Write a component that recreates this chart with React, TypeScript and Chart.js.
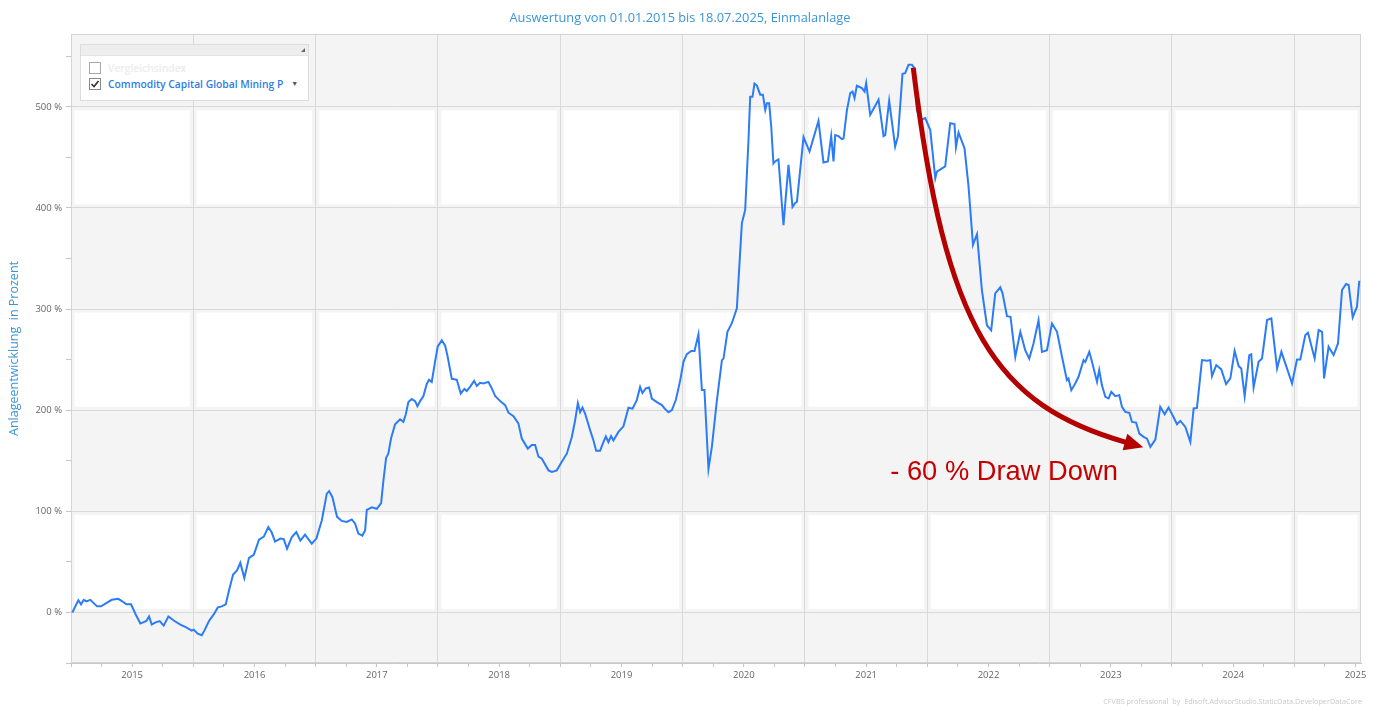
import React, { useEffect, useRef } from "react";
import { Chart, registerables } from "chart.js";

Chart.register(...registerables);

const chartTitle = "Auswertung von 01.01.2015 bis 18.07.2025, Einmalanlage";
const yAxisTitle = "Anlageentwicklung  in Prozent";
const seriesName = "Commodity Capital Global Mining P";
const hiddenSeriesName = "Vergleichsindex";
const footerText = "CFVBS professional  by  Edisoft.AdvisorStudio.StaticData.DeveloperDataCore";
const drawDownLabel = "- 60 % Draw Down";

const yearLabels = [2015, 2016, 2017, 2018, 2019, 2020, 2021, 2022, 2023, 2024, 2025];
const percentTicks = [0, 100, 200, 300, 400, 500];
const whiteBands = [0, 200, 400];

// decimal years
const dates = [
  2015.011, 2015.06, 2015.082, 2015.104, 2015.125, 2015.158, 2015.213, 2015.245, 2015.333, 2015.387,
  2015.419, 2015.452, 2015.491, 2015.529, 2015.567, 2015.616, 2015.638, 2015.66, 2015.687, 2015.725,
  2015.758, 2015.796, 2015.84, 2015.894, 2015.938, 2015.987, 2016.003, 2016.036, 2016.069, 2016.09,
  2016.128, 2016.167, 2016.2, 2016.232, 2016.265, 2016.292, 2016.325, 2016.357, 2016.384, 2016.417,
  2016.455, 2016.494, 2016.537, 2016.576, 2016.613, 2016.641, 2016.668, 2016.711, 2016.739, 2016.766,
  2016.805, 2016.842, 2016.875, 2016.913, 2016.968, 2017.006, 2017.05, 2017.091, 2017.11, 2017.137,
  2017.175, 2017.213, 2017.254, 2017.295, 2017.322, 2017.349, 2017.382, 2017.404, 2017.418, 2017.459,
  2017.5, 2017.535, 2017.554, 2017.576, 2017.594, 2017.616, 2017.649, 2017.69, 2017.717, 2017.737,
  2017.758, 2017.786, 2017.813, 2017.832, 2017.854, 2017.881, 2017.908, 2017.927, 2017.949, 2017.976,
  2017.998, 2018.031, 2018.058, 2018.077, 2018.113, 2018.154, 2018.186, 2018.216, 2018.235, 2018.262,
  2018.295, 2018.317, 2018.344, 2018.371, 2018.412, 2018.44, 2018.467, 2018.508, 2018.549, 2018.576,
  2018.617, 2018.657, 2018.685, 2018.734, 2018.767, 2018.794, 2018.821, 2018.849, 2018.903, 2018.931,
  2018.971, 2019.012, 2019.053, 2019.094, 2019.121, 2019.143, 2019.162, 2019.181, 2019.203, 2019.244,
  2019.271, 2019.293, 2019.325, 2019.352, 2019.372, 2019.393, 2019.415, 2019.434, 2019.475, 2019.516,
  2019.557, 2019.59, 2019.625, 2019.652, 2019.671, 2019.699, 2019.726, 2019.748, 2019.789, 2019.83,
  2019.857, 2019.884, 2019.912, 2019.944, 2019.98, 2020.007, 2020.034, 2020.07, 2020.097, 2020.129,
  2020.157, 2020.178, 2020.211, 2020.239, 2020.28, 2020.321, 2020.334, 2020.366, 2020.402, 2020.443,
  2020.484, 2020.511, 2020.538, 2020.552, 2020.571, 2020.587, 2020.607, 2020.634, 2020.656, 2020.675,
  2020.688, 2020.707, 2020.724, 2020.742, 2020.756, 2020.783, 2020.824, 2020.865, 2020.898, 2020.92,
  2020.934, 2020.988, 2021.037, 2021.11, 2021.151, 2021.187, 2021.214, 2021.233, 2021.247, 2021.274,
  2021.302, 2021.315, 2021.343, 2021.37, 2021.389, 2021.405, 2021.424, 2021.465, 2021.487, 2021.5,
  2021.533, 2021.601, 2021.642, 2021.656, 2021.688, 2021.737, 2021.76, 2021.797, 2021.819, 2021.846,
  2021.874, 2021.895, 2021.915, 2021.942, 2021.983, 2022.024, 2022.065, 2022.078, 2022.146, 2022.187,
  2022.222, 2022.234, 2022.255, 2022.304, 2022.337, 2022.373, 2022.406, 2022.446, 2022.487, 2022.522,
  2022.555, 2022.596, 2022.615, 2022.651, 2022.68, 2022.719, 2022.76, 2022.8, 2022.833, 2022.868,
  2022.909, 2022.937, 2022.978, 2023.019, 2023.06, 2023.101, 2023.141, 2023.154, 2023.177, 2023.209,
  2023.236, 2023.277, 2023.291, 2023.324, 2023.346, 2023.387, 2023.405, 2023.427, 2023.455, 2023.482,
  2023.504, 2023.536, 2023.569, 2023.591, 2023.618, 2023.651, 2023.673, 2023.706, 2023.733, 2023.768,
  2023.796, 2023.823, 2023.864, 2023.904, 2023.94, 2023.972, 2024.005, 2024.041, 2024.068, 2024.109,
  2024.15, 2024.177, 2024.204, 2024.245, 2024.286, 2024.313, 2024.327, 2024.362, 2024.403, 2024.442,
  2024.477, 2024.512, 2024.545, 2024.566, 2024.594, 2024.632, 2024.648, 2024.667, 2024.708, 2024.736,
  2024.777, 2024.812, 2024.859, 2024.894, 2024.94, 2024.981, 2025.022, 2025.049, 2025.09, 2025.112,
  2025.166, 2025.199, 2025.227, 2025.243, 2025.28, 2025.321, 2025.357, 2025.39, 2025.423, 2025.444,
  2025.477, 2025.512, 2025.531,
];

// performance in percent
const values = [
  0, 12, 8, 12.5, 11, 12.5, 6, 6, 12.5, 13.5,
  11, 8, 8, -2, -11, -8.5, -4, -12, -10, -8.5,
  -13, -4, -8, -12, -14.5, -18, -17, -21, -22.5, -18,
  -8.5, -2, 5, 6, 8, 22, 37.5, 41.5, 49, 34,
  54, 57, 72, 75, 84.5, 79, 70, 73, 72.5, 63,
  74.5, 79.5, 71, 77, 68, 73, 91, 117.5, 120, 114,
  94.5, 90.5, 89.5, 92, 88, 78, 76, 81, 101.5, 104,
  102.5, 108, 130.5, 153, 157, 172, 186, 191, 188.5, 196,
  208, 211, 209, 204, 209, 214, 226, 230, 228, 248,
  263, 269, 264, 254, 231, 230, 216.5, 221, 219, 223,
  229, 224, 227, 226.5, 228, 221.5, 214, 209, 205, 197.5,
  194, 187, 172, 162, 165.5, 165.5, 154, 152, 140.5, 139,
  140.5, 149, 157, 173.5, 190, 207, 198, 202.5, 196.5, 180,
  170, 160, 160, 168.5, 174, 168.5, 174.5, 170, 178.5, 184,
  202.5, 201.5, 210, 223, 217, 221.5, 222.5, 211.5, 208, 205,
  201, 198, 200, 210, 229.5, 248, 255.5, 258.5, 258.5, 275,
  220, 220, 142, 164, 210, 249.5, 251, 277.5, 286, 300.7,
  385, 398, 467, 510, 510, 523, 521, 512, 512, 497,
  503.6, 503.6, 480.5, 444, 446, 448, 383, 442.6, 401, 405,
  406, 470, 455.7, 486, 445, 446, 471, 446, 472, 471,
  468, 468.6, 497, 513.5, 515, 508.6, 520.8, 518.5, 515, 523.5,
  492, 507, 471, 472, 506, 460.7, 471, 532.7, 533.3, 541.6,
  541.6, 538, 497, 487, 488.8, 477, 429.4, 436, 441, 483.8,
  483, 460, 474.6, 459, 421, 363.4, 374, 318.8, 284, 279,
  315.5, 321.5, 315.5, 293, 292.4, 252.8, 277.5, 259.4, 251, 266,
  289, 257.7, 259.4, 285.8, 277.5, 252.8, 229.7, 231.4, 219.8, 226.4,
  233, 249.5, 247.8, 257.7, 247.8, 228, 239.6, 224.8, 213.2, 211.6,
  218.1, 213.9, 214.9, 203.3, 198.3, 197.4, 188.4, 187.8, 176.9, 173.6,
  171.9, 163.7, 171, 203.3, 196, 202.6, 195, 186.1, 189.4, 183.5,
  168.6, 201.7, 202.3, 249.5, 248.8, 249.5, 233.7, 244.6, 240.3, 225.7,
  231.4, 258.7, 243.6, 241.3, 213.9, 254.5, 255.4, 222.5, 247.8, 251.2,
  289.1, 290.8, 241.3, 257.7, 241.3, 226.4, 250.2, 250.2, 274.3, 276.6,
  251.2, 279.2, 277.5, 231.4, 262.7, 254.5, 266, 318.8, 324.8, 323.8,
  291.8, 302.3, 328,
];

// annotation, in data coordinates (year, percent)
const arrowStart = { x: 2021.885, y: 538.6 };
const arrowCtrl1 = { x: 2022.146, y: 279.2 };
const arrowCtrl2 = { x: 2022.555, y: 205 };
const arrowTip = { x: 2023.765, y: 163.4 };
const labelAnchor = { x: 2021.697, y: 138.6 };

const xMin = 2015;
const xMax = 2025.545;
const yMin = -50;
const yMax = 572;

const decorPlugin = {
  id: "decor",
  beforeDraw(chart: any) {
    const { ctx, chartArea: a, scales } = chart;
    const x = scales.x;
    const y = scales.y;
    ctx.save();
    ctx.fillStyle = "#f4f4f4";
    ctx.fillRect(a.left, a.top, a.right - a.left, a.bottom - a.top);
    const edges = [a.left, ...yearLabels.slice(1).map((yr) => x.getPixelForValue(yr)), a.right];
    ctx.fillStyle = "#ffffff";
    const inset = 3.5;
    whiteBands.forEach((b) => {
      const top = y.getPixelForValue(b + 100);
      const bottom = y.getPixelForValue(b);
      for (let i = 0; i < edges.length - 1; i++) {
        const x0 = edges[i];
        const x1 = edges[i + 1];
        if (x1 - x0 < 2 * inset + 2) continue;
        ctx.fillRect(x0 + inset, top + inset, x1 - x0 - 2 * inset, bottom - top - 2 * inset);
      }
    });
    ctx.restore();
  },
  beforeDatasetsDraw(chart: any) {
    const { ctx, chartArea: a } = chart;
    ctx.save();
    ctx.strokeStyle = "#d4d4d4";
    ctx.lineWidth = 1;
    ctx.strokeRect(a.left + 0.5, a.top + 0.5, a.right - a.left - 1, a.bottom - a.top - 1);
    ctx.restore();
  },
  afterDraw(chart: any) {
    const { ctx, scales } = chart;
    const x = scales.x;
    const y = scales.y;
    ctx.save();
    // title
    ctx.fillStyle = "#3a95d8";
    ctx.font = "12.8px 'Open Sans'";
    ctx.textAlign = "center";
    ctx.textBaseline = "middle";
    ctx.fillText(chartTitle, 680, 18);

    // arrow
    const p0 = { x: x.getPixelForValue(arrowStart.x), y: y.getPixelForValue(arrowStart.y) };
    const p1 = { x: x.getPixelForValue(arrowCtrl1.x), y: y.getPixelForValue(arrowCtrl1.y) };
    const p2 = { x: x.getPixelForValue(arrowCtrl2.x), y: y.getPixelForValue(arrowCtrl2.y) };
    const tip = { x: x.getPixelForValue(arrowTip.x), y: y.getPixelForValue(arrowTip.y) };
    let dx = tip.x - p2.x;
    let dy = tip.y - p2.y;
    const len = Math.hypot(dx, dy);
    dx /= len;
    dy /= len;
    const headLen = 19;
    const headHalf = 8.5;
    const base = { x: tip.x - dx * headLen, y: tip.y - dy * headLen };
    ctx.strokeStyle = "#b50000";
    ctx.fillStyle = "#b50000";
    ctx.lineWidth = 5;
    ctx.lineCap = "butt";
    ctx.beginPath();
    ctx.moveTo(p0.x, p0.y);
    ctx.bezierCurveTo(p1.x, p1.y, p2.x, p2.y, base.x + dx * 2, base.y + dy * 2);
    ctx.stroke();
    ctx.beginPath();
    ctx.moveTo(tip.x, tip.y);
    ctx.lineTo(base.x - dy * headHalf, base.y + dx * headHalf);
    ctx.lineTo(base.x + dy * headHalf, base.y - dx * headHalf);
    ctx.closePath();
    ctx.fill();

    // draw-down label
    ctx.fillStyle = "#c40000";
    ctx.font = "27.3px 'Liberation Sans', Arial, sans-serif";
    ctx.textAlign = "left";
    ctx.textBaseline = "middle";
    ctx.fillText(drawDownLabel, x.getPixelForValue(labelAnchor.x), y.getPixelForValue(labelAnchor.y));

    // footer
    ctx.fillStyle = "#c9c9c9";
    ctx.font = "7.3px 'Open Sans'";
    ctx.textAlign = "right";
    ctx.textBaseline = "middle";
    ctx.fillText(footerText, 1362, 702);
    ctx.restore();
  },
};

export default function App() {
  const canvasRef = useRef<HTMLCanvasElement | null>(null);

  useEffect(() => {
    if (!canvasRef.current) return;
    const points = dates.map((d, i) => ({ x: d, y: values[i] }));
    const chart = new Chart(canvasRef.current, {
      type: "line",
      data: {
        datasets: [
          {
            label: seriesName,
            data: points,
            borderColor: "#2b7cf6",
            borderWidth: 2,
            pointRadius: 0,
            tension: 0,
            fill: false,
          },
        ],
      },
      options: {
        responsive: false,
        animation: false,
        layout: { padding: { top: 34, right: 12, left: 0, bottom: 0 } },
        plugins: {
          legend: { display: false },
          title: { display: false },
          tooltip: { enabled: false },
        },
        scales: {
          x: {
            type: "linear",
            min: xMin,
            max: xMax,
            afterBuildTicks: (s: any) => {
              const t: any[] = [];
              for (let v = yearLabels[0]; v <= yearLabels[yearLabels.length - 1] + 0.5; v += 0.25) t.push({ value: v });
              s.ticks = t;
            },
            afterFit: (s: any) => {
              s.height = 43;
            },
            grid: {
              color: (c: any) =>
                c.tick && Number.isInteger(c.tick.value) && c.tick.value > xMin ? "#d9d9d9" : "rgba(0,0,0,0)",
              tickColor: "#c6c6c6",
              tickLength: 4,
            },
            border: { color: "#c8c8c8" },
            ticks: {
              autoSkip: false,
              maxRotation: 0,
              padding: 3,
              color: "#666666",
              font: { family: "'Open Sans'", size: 9.5 },
              callback: (v: any) => (Math.abs((v % 1) - 0.5) < 1e-6 ? String(Math.floor(v)) : ""),
            },
          },
          y: {
            type: "linear",
            min: yMin,
            max: yMax,
            afterBuildTicks: (s: any) => {
              const t: any[] = [];
              for (let v = yMin; v < yMax; v += 50) t.push({ value: v });
              s.ticks = t;
            },
            afterFit: (s: any) => {
              s.width = 71;
            },
            grid: {
              color: (c: any) =>
                c.tick && c.tick.value % 100 === 0 && c.tick.value >= 0 ? "#d9d9d9" : "rgba(0,0,0,0)",
              tickColor: "#c6c6c6",
              tickLength: 5,
            },
            border: { color: "#c8c8c8" },
            title: {
              display: true,
              text: yAxisTitle,
              color: "#3a95d8",
              font: { family: "'Open Sans'", size: 12.5 },
              padding: { top: 7, bottom: 0 },
            },
            ticks: {
              autoSkip: false,
              padding: 4,
              color: "#666666",
              font: { family: "'Open Sans'", size: 9.5 },
              callback: (v: any) => (percentTicks.includes(v) ? `${v} %` : ""),
            },
          },
        },
      },
      plugins: [decorPlugin],
    } as any);
    return () => chart.destroy();
  }, []);

  return (
    <div style={{ position: "absolute", left: 0, top: 0, width: 1373, height: 706, background: "#fff" }}>
      <canvas ref={canvasRef} width={1373} height={706} style={{ width: 1373, height: 706, display: "block" }} />
      <div
        style={{
          position: "absolute",
          left: 80,
          top: 44,
          width: 229,
          height: 57,
          boxSizing: "border-box",
          border: "1px solid #dcdcdc",
          background: "#ffffff",
          fontFamily: "'Open Sans', sans-serif",
        }}
      >
        <div style={{ position: "relative", height: 10, background: "#eeeeee", borderBottom: "1px solid #e4e4e4" }}>
          <div
            style={{
              position: "absolute",
              right: 3,
              top: 3,
              width: 0,
              height: 0,
              borderLeft: "4px solid transparent",
              borderBottom: "4px solid #666",
            }}
          />
        </div>
        <div style={{ position: "absolute", left: 8, top: 16, display: "flex", alignItems: "center", height: 13 }}>
          <div style={{ width: 12, height: 12, border: "1px solid #a8a8a8", background: "#fff", boxSizing: "border-box" }} />
          <span style={{ marginLeft: 7, fontSize: 10.3, color: "#ececec", fontWeight: 600 }}>{hiddenSeriesName}</span>
        </div>
        <div style={{ position: "absolute", left: 8, top: 32, display: "flex", alignItems: "center", height: 13 }}>
          <div
            style={{
              width: 12,
              height: 12,
              border: "1px solid #8a8a8a",
              background: "#fff",
              boxSizing: "border-box",
              position: "relative",
            }}
          >
            <svg width="12" height="12" style={{ position: "absolute", left: -1, top: -1 }}>
              <polyline points="2.5,6 5,8.5 9.5,3" fill="none" stroke="#333" strokeWidth="1.6" />
            </svg>
          </div>
          <span style={{ marginLeft: 7, fontSize: 10.3, color: "#2f7de1", fontWeight: 600, whiteSpace: "nowrap" }}>
            {seriesName}
          </span>
          <span style={{ marginLeft: 8, fontSize: 7, color: "#555" }}>▼</span>
        </div>
      </div>
    </div>
  );
}
